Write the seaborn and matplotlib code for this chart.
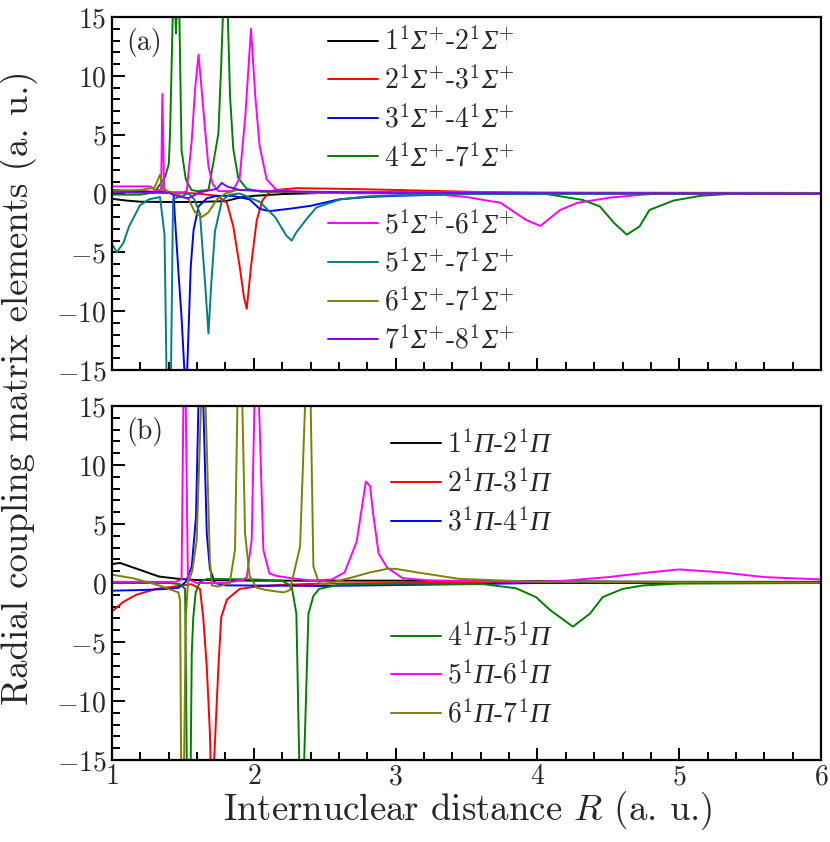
import matplotlib
matplotlib.use("Agg")
import matplotlib.pyplot as plt
import seaborn as sns
from matplotlib.lines import Line2D
from matplotlib.ticker import MultipleLocator

# ---------------- data ----------------
# panel (a): 1Sigma+ couplings
r_s12 = [1.0, 1.1, 1.2, 1.4, 1.6, 1.8, 1.9, 2.0, 2.2, 2.5, 3.0, 4.0, 6.0]
v_s12 = [-0.45, -0.6, -0.7, -0.72, -0.72, -0.65, -0.35, -0.2, -0.05, 0.05, 0.1, 0.05, 0.02]

r_s23 = [1.0, 1.2, 1.4, 1.6, 1.74, 1.81, 1.855, 1.9, 1.93, 1.95, 1.98, 2.02, 2.06, 2.1,
         2.15, 2.3, 2.6, 3.0, 3.5, 4.0, 6.0]
v_s23 = [0.3, 0.2, 0.1, 0.0, -0.2, -0.8, -2.8, -6.2, -8.8, -9.8, -6.2, -2.3, -0.6, 0.0,
         0.3, 0.45, 0.4, 0.3, 0.15, 0.05, 0.0]

r_s34 = [1.0, 1.2, 1.4, 1.433, 1.45, 1.47, 1.49, 1.51, 1.52, 1.53, 1.555, 1.575, 1.61,
         1.67, 1.74, 1.85, 1.97, 2.04, 2.11, 2.25, 2.4, 2.6, 2.8, 3.0, 3.5, 4.0, 6.0]
v_s34 = [0.2, 0.15, 0.1, 0.0, -3.3, -7.0, -10.5, -15.0, -16.0, -15.0, -6.2, -3.1, -1.1,
         -0.4, -0.2, -0.2, -0.5, -1.3, -1.5, -1.3, -1.05, -0.5, -0.3, -0.2, -0.05, 0.0, 0.0]

r_s47 = [1.0, 1.2, 1.3, 1.374, 1.40, 1.409, 1.428, 1.44, 1.451, 1.462, 1.475, 1.49, 1.52,
         1.56, 1.6, 1.68, 1.72, 1.75, 1.77, 1.79, 1.81, 1.832, 1.855, 1.89, 1.95, 2.05,
         3.0, 4.04, 4.32, 4.44, 4.54, 4.63, 4.72, 4.79, 4.96, 5.15, 5.4, 6.0]
v_s47 = [-0.1, -0.1, 0.1, 1.4, 2.5, 5.1, 15.0, 18.0, 13.6, 18.0, 15.0, 3.7, 1.2,
         0.3, 0.2, 0.3, 3.0, 5.1, 11.0, 18.0, 18.0, 8.3, 3.8, 1.3, 0.4, 0.15,
         0.1, 0.0, -0.55, -1.1, -2.5, -3.5, -2.8, -1.4, -0.6, -0.2, 0.0, 0.0]

r_s56 = [1.0, 1.27, 1.30, 1.346, 1.355, 1.367, 1.40, 1.5, 1.527, 1.562, 1.585, 1.61, 1.632,
         1.655, 1.68, 1.71, 1.75, 1.85, 1.90, 1.94, 1.98, 2.01, 2.04, 2.09, 2.16, 2.4, 3.0,
         3.31, 3.5, 3.74, 3.92, 4.02, 4.16, 4.28, 4.51, 4.79, 6.0]
v_s56 = [0.6, 0.6, 0.3, 0.3, 8.45, 0.4, 0.1, 0.1, 0.2, 4.5, 8.8, 11.8, 8.8,
         5.6, 2.3, 0.8, 0.2, 0.2, 1.3, 6.6, 14.0, 8.3, 4.1, 1.2, 0.3, 0.05, 0.0,
         -0.1, -0.3, -0.8, -2.25, -2.76, -1.4, -0.8, -0.35, -0.05, 0.0]

r_s57 = [1.0, 1.033, 1.08, 1.12, 1.197, 1.26, 1.338, 1.37, 1.385, 1.40, 1.415, 1.43, 1.47,
         1.54, 1.58, 1.62, 1.656, 1.68, 1.70, 1.726, 1.775, 1.83, 1.9, 2.04, 2.15, 2.23,
         2.267, 2.30, 2.37, 2.44, 2.61, 2.8, 3.0, 3.5, 6.0]
v_s57 = [-4.3, -5.0, -4.2, -2.8, -1.0, -0.5, -0.3, -3.5, -16.0, -20.0, -16.0, -0.5, -0.3,
         0.0, -0.5, -1.7, -7.6, -11.9, -7.6, -3.2, -0.6, -0.1, 0.0, -0.7, -2.0, -3.6,
         -4.0, -3.3, -2.2, -1.2, -0.5, -0.25, -0.15, -0.05, 0.0]

r_s67 = [1.0, 1.2, 1.3, 1.338, 1.36, 1.42, 1.49, 1.54, 1.585, 1.633, 1.68, 1.74, 1.80,
         1.88, 1.95, 2.1, 3.0, 6.0]
v_s67 = [0.2, 0.3, 0.5, 1.6, 0.3, 0.1, -0.2, -0.5, -1.6, -2.0, -1.6, -0.5, 0.0,
         0.3, 0.3, 0.15, 0.1, 0.05]

r_s78 = [1.0, 1.4, 1.48, 1.54, 1.62, 1.74, 1.773, 1.81, 1.9, 2.1, 3.0, 6.0]
v_s78 = [0.1, 0.05, -0.3, -0.4, 0.1, 0.4, 0.9, 0.6, 0.3, 0.2, 0.05, 0.0]

# panel (b): 1Pi couplings
r_p12 = [1.0, 1.056, 1.2, 1.33, 1.47, 1.6, 2.0, 3.0, 4.0, 5.0, 6.0]
v_p12 = [1.6, 1.7, 1.1, 0.55, 0.35, 0.25, 0.2, 0.2, 0.15, 0.1, 0.1]

r_p23 = [1.0, 1.08, 1.17, 1.31, 1.47, 1.56, 1.62, 1.643, 1.668, 1.69, 1.705, 1.72, 1.75,
         1.77, 1.81, 1.9, 2.02, 2.2, 2.5, 3.0, 6.0]
v_p23 = [-2.4, -1.6, -1.0, -0.5, -0.25, -0.1, -0.5, -2.9, -7.1, -12.7, -20.0, -15.0, -7.1,
         -2.9, -1.4, -0.5, -0.3, -0.15, -0.05, 0.0, 0.0]

r_p34 = [1.0, 1.2, 1.4, 1.47, 1.52, 1.562, 1.592, 1.609, 1.625, 1.644, 1.668, 1.69, 1.726,
         1.8, 2.5, 3.5, 4.0, 6.0]
v_p34 = [-0.65, -0.6, -0.5, -0.4, 0.1, 1.4, 5.6, 15.0, 25.0, 15.0, 4.2, 1.2, 0.0,
         -0.2, -0.25, -0.1, 0.0, 0.0]

r_p45 = [1.0, 1.4, 1.48, 1.515, 1.527, 1.541, 1.555, 1.562, 1.573, 1.59, 1.62, 1.67, 2.0,
         2.2, 2.267, 2.30, 2.32, 2.337, 2.355, 2.385, 2.42, 2.46, 2.6, 3.0, 3.62, 3.85,
         3.99, 4.09, 4.25, 4.37, 4.46, 4.6, 4.75, 5.0, 6.0]
v_p45 = [0.0, 0.0, -0.1, -0.5, -15.0, -25.0, -15.0, -6.0, -2.9, -0.8, 0.1, 0.35, 0.3,
         0.2, -0.3, -2.6, -15.0, -25.0, -15.0, -2.6, -1.1, -0.5, -0.15, -0.05, -0.1, -0.45,
         -1.2, -2.3, -3.7, -2.6, -1.2, -0.5, -0.2, -0.05, 0.0]

r_p56 = [1.0, 1.45, 1.49, 1.503, 1.512, 1.52, 1.535, 1.6, 1.8, 1.92, 1.95, 1.985, 2.004,
         2.02, 2.037, 2.067, 2.11, 2.16, 2.27, 2.41, 2.55, 2.64, 2.725, 2.79, 2.82, 2.84,
         2.88, 2.94, 3.05, 3.26, 4.0, 4.2, 4.5, 4.79, 5.0, 5.3, 5.6, 6.0]
v_p56 = [0.1, 0.1, 0.3, 15.0, 30.0, 15.0, 0.3, 0.0, 0.0, 0.25, 0.5, 3.7, 15.0,
         30.0, 15.0, 2.8, 0.8, 0.6, 0.4, 0.2, 0.3, 0.9, 3.5, 8.6, 8.2, 6.0,
         2.5, 1.3, 0.4, 0.2, 0.1, 0.2, 0.5, 0.9, 1.15, 0.9, 0.5, 0.3]

r_p67 = [1.0, 1.15, 1.33, 1.468, 1.48, 1.487, 1.497, 1.508, 1.52, 1.535, 1.565, 1.597,
         1.627, 1.643, 1.66, 1.69, 1.703, 1.75, 1.83, 1.867, 1.884, 1.90, 1.919, 1.938,
         1.97, 2.02, 2.09, 2.21, 2.255, 2.326, 2.361, 2.381, 2.401, 2.42, 2.46, 2.50,
         2.70, 2.82, 2.94, 3.0, 3.15, 3.45, 4.0, 6.0]
v_p67 = [0.7, 0.4, -0.2, -0.8, -1.5, -15.0, -25.0, -15.0, -3.0, 0.0, 1.0, 3.6,
         15.0, 25.0, 15.0, 2.0, -0.2, -0.3, 0.0, 2.8, 15.0, 25.0, 15.0, 4.2,
         0.6, -0.4, -0.6, -0.8, -0.6, 3.1, 15.0, 25.0, 15.0, 1.4, 0.0, -0.1,
         0.5, 0.9, 1.2, 1.2, 0.9, 0.35, 0.1, 0.05]

sigma_curves = [(r_s12, v_s12), (r_s23, v_s23), (r_s34, v_s34), (r_s47, v_s47),
                (r_s56, v_s56), (r_s57, v_s57), (r_s67, v_s67), (r_s78, v_s78)]
sigma_pairs = [("1", "2"), ("2", "3"), ("3", "4"), ("4", "7"),
               ("5", "6"), ("5", "7"), ("6", "7"), ("7", "8")]
sigma_colors = ["black", "#ff0000", "#0000ff", "#008000",
                "#ff00ff", "#008080", "#808000", "#8000ff"]

pi_curves = [(r_p12, v_p12), (r_p23, v_p23), (r_p34, v_p34),
             (r_p45, v_p45), (r_p56, v_p56), (r_p67, v_p67)]
pi_pairs = [("1", "2"), ("2", "3"), ("3", "4"), ("4", "5"), ("5", "6"), ("6", "7")]
pi_colors = ["black", "#ff0000", "#0000ff", "#008000", "#ff00ff", "#808000"]

# ---------------- style ----------------
sns.set_style("ticks")
plt.rcParams.update({
    "font.family": "serif",
    "font.serif": ["cmr10"],
    "mathtext.fontset": "custom",
    "mathtext.rm": "cmr10",
    "mathtext.it": "cmmi10",
    "mathtext.bf": "cmb10",
    "mathtext.sf": "Liberation Serif:italic",
    "axes.formatter.use_mathtext": True,
    "axes.unicode_minus": True,
    "xtick.minor.visible": True,
    "ytick.minor.visible": True,
})

LW = 1.4
TICK_FS = 20
LEG_FS = 20
LABEL_FS = 26.5


def sig_label(a, b):
    return rf"${a}^{{1}}\mathsf{{\Sigma}}^{{+}}$-${b}^{{1}}\mathsf{{\Sigma}}^{{+}}$"


def pi_label(a, b):
    return rf"${a}^{{1}}\mathsf{{\Pi}}$-${b}^{{1}}\mathsf{{\Pi}}$"


def style_axis(ax):
    ax.set_xlim(1, 6)
    ax.set_ylim(-15, 15)
    ax.xaxis.set_major_locator(MultipleLocator(1))
    ax.xaxis.set_minor_locator(MultipleLocator(0.2))
    ax.yaxis.set_major_locator(MultipleLocator(5))
    ax.yaxis.set_minor_locator(MultipleLocator(1))
    ax.tick_params(which="both", direction="in", top=False, right=False,
                   bottom=True, left=True, color="black", labelsize=TICK_FS)
    ax.tick_params(which="major", length=9, width=1.4)
    ax.tick_params(which="minor", length=6, width=1.4)
    ax.tick_params(axis="x", which="both", pad=3)
    ax.tick_params(axis="y", which="both", pad=4)
    for s in ax.spines.values():
        s.set_linewidth(1.6)
        s.set_color("black")
    ax.set_xlabel("")
    ax.set_ylabel("")


fig = plt.figure(figsize=(8.3, 8.42), dpi=100)
ax_a = fig.add_axes([0.135, 0.5606, 0.8542, 0.4192])
ax_b = fig.add_axes([0.135, 0.0974, 0.8542, 0.4204])

leg_kw = dict(frameon=False, fontsize=LEG_FS, handlelength=1.8, handletextpad=0.2,
              labelspacing=0.36, borderpad=0, borderaxespad=0, loc="upper left")

# panel (a)
for (r, v), c in zip(sigma_curves, sigma_colors):
    sns.lineplot(x=r, y=v, ax=ax_a, color=c, lw=LW, estimator=None, legend=False)
style_axis(ax_a)
ax_a.tick_params(labelbottom=False)
ax_a.text(0.02, 0.929, "(a)", transform=ax_a.transAxes, fontsize=20,
          ha="left", va="center")

h_sig = [Line2D([], [], color=c, lw=LW) for c in sigma_colors]
l_sig = [sig_label(a, b) for a, b in sigma_pairs]
leg1 = ax_a.legend(h_sig[:4], l_sig[:4], bbox_to_anchor=(0.305, 0.970), **leg_kw)
ax_a.add_artist(leg1)
ax_a.legend(h_sig[4:], l_sig[4:], bbox_to_anchor=(0.305, 0.452), **leg_kw)

# panel (b)
for (r, v), c in zip(pi_curves, pi_colors):
    sns.lineplot(x=r, y=v, ax=ax_b, color=c, lw=LW, estimator=None, legend=False)
style_axis(ax_b)
ax_b.text(0.02, 0.929, "(b)", transform=ax_b.transAxes, fontsize=20,
          ha="left", va="center")

h_pi = [Line2D([], [], color=c, lw=LW) for c in pi_colors]
l_pi = [pi_label(a, b) for a, b in pi_pairs]
leg3 = ax_b.legend(h_pi[:3], l_pi[:3], bbox_to_anchor=(0.3935, 0.931), **leg_kw)
ax_b.add_artist(leg3)
ax_b.legend(h_pi[3:], l_pi[3:], bbox_to_anchor=(0.3935, 0.388), **leg_kw)

fig.text(0.564, 0.037, r"Internuclear distance $R$ (a. u.)", fontsize=LABEL_FS,
         ha="center", va="center")
fig.text(0.022, 0.539, "Radial coupling matrix elements (a. u.)", fontsize=LABEL_FS,
         ha="center", va="center", rotation=90)

fig.savefig("out.png", dpi=100)
